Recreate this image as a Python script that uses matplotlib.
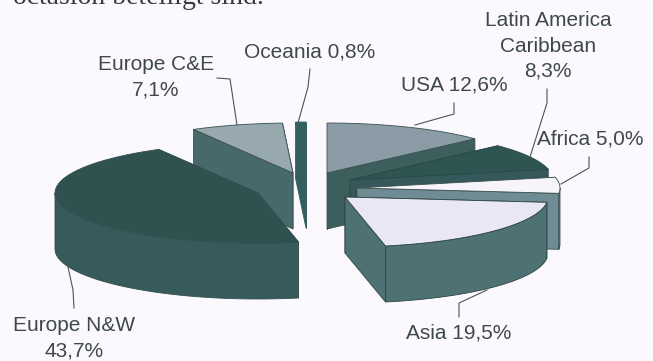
import numpy as np
import matplotlib.pyplot as plt
from matplotlib.patches import Polygon

plt.rcParams['font.family'] = ['Liberation Sans', 'DejaVu Sans']

# Data, clockwise from 12 o'clock
regions = ["USA", "Latin America", "Africa", "Asia", "Europe N&W", "Europe C&E", "Oceania"]
shares = [12.6, 8.3, 5.0, 19.5, 43.7, 7.1, 0.8]
share_labels = ["12,6%", "8,3%", "5,0%", "19,5%", "43,7%", "7,1%", "0,8%"]

# Where each exploded slice has its tip (pixels)
tips = [(327, 173), (350, 180), (357, 188), (345, 197), (258, 193), (293, 173), (306, 172)]
top_colors = ["#8c9ca6", "#2f5553", "#f7f5fb", "#e9e7f3", "#2f5150", "#97a8af", "#33605e"]
side_colors = ["#3c5f5e", "#35595a", "#6f8b93", "#4e7273", "#375a5a", "#48696b", "#33605e"]
edge_colors = ["#3a5050", "#2c4848", "#3a5050", "#2c4444", "#33504f", "#3a5050", "#33605e"]
draw_order = [5, 6, 4, 0, 1, 2, 3]

rx, ry = 203, 50
depth = 56

fig = plt.figure(figsize=(6.53, 3.61), dpi=100, facecolor="#fbf9fd")
ax = fig.add_axes([0, 0, 1, 1])
ax.set_xlim(0, 653)
ax.set_ylim(361, 0)
ax.axis("off")

ends = np.cumsum(shares) / np.sum(shares) * 360
starts = np.concatenate([[0], ends[:-1]])


def rim(tip, a0, a1, n=60):
    t = np.radians(np.linspace(a0, a1, n))
    return np.column_stack([tip[0] + rx * np.sin(t), tip[1] - ry * np.cos(t)])


def face(points, color, line):
    ax.add_patch(Polygon(points, closed=True, facecolor=color, edgecolor=line, lw=0.6))


for i in draw_order:
    tip = tips[i]
    arc = rim(tip, starts[i], ends[i])
    drop = np.array([0, depth])

    # straight walls, the one further back goes first
    walls = [arc[0], arc[-1]]
    walls.sort(key=lambda p: p[1])
    for p in walls:
        q = np.array([tip, p, p + drop, np.array(tip) + drop])
        face(q, side_colors[i], edge_colors[i])

    # curved wall, only the front half of the pie shows it
    a0, a1 = max(starts[i], 90), min(ends[i], 270)
    if a1 > a0:
        front = rim(tip, a0, a1)
        face(np.vstack([front, (front + drop)[::-1]]), side_colors[i], edge_colors[i])

    face(np.vstack([[tip], arc]), top_colors[i], edge_colors[i])

# Leader lines
leaders = [
    [(454, 103), (454, 114), (415, 125)],
    [(547, 89), (547, 103), (530, 157)],
    [(589, 157), (589, 168), (561, 184)],
    [(459, 317), (459, 303), (487, 290)],
    [(74, 308), (73, 290), (68, 267)],
    [(217, 78), (230, 79), (237, 125)],
    [(310, 69), (308, 87), (298, 123)],
]
for line in leaders:
    xs, ys = zip(*line)
    ax.plot(xs, ys, color="#4a5656", lw=0.8)

# Labels
text_color = "#3f4949"
label_texts = [
    f"{regions[0]} {share_labels[0]}",
    f"{regions[1]}\nCaribbean\n{share_labels[1]}",
    f"{regions[2]} {share_labels[2]}",
    f"{regions[3]} {share_labels[3]}",
    f"{regions[4]}\n{share_labels[4]}",
    f"{regions[5]}\n{share_labels[5]}",
    f"{regions[6]} {share_labels[6]}",
]
label_pos = [(454, 85), (548, 46), (590, 139), (459, 333), (74, 338), (156, 77), (310, 52)]
for s, (x, y) in zip(label_texts, label_pos):
    ax.text(x, y, s, ha="center", va="center", fontsize=15, color=text_color,
            linespacing=1.42, multialignment="center")

# Last line of the page's body text, cut by the crop as in the scan
ax.text(13, -3, "octasion beteiligt sind.", family="Liberation Serif", fontsize=20,
        color="#3a3a3a", ha="left", va="center")

fig.savefig("out.png", dpi=100, facecolor=fig.get_facecolor())
